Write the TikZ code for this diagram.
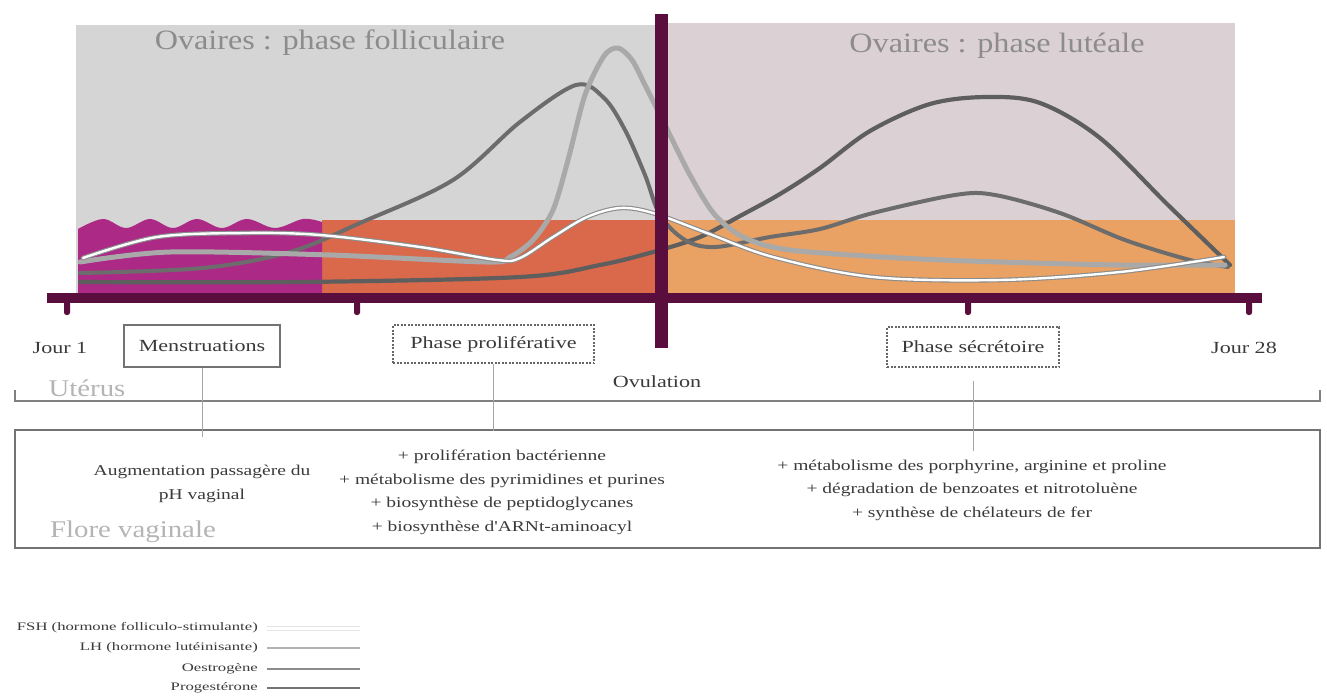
\documentclass[tikz,border=0pt]{standalone}
\usepackage{fontspec}
\setmainfont{Liberation Serif}
\newfontfamily\labfont[FakeStretch=1.3]{Liberation Serif}
\newfontfamily\titfont[FakeStretch=1.15]{Liberation Serif}
\newfontfamily\orgfont[FakeStretch=1.2]{Liberation Serif}
\newfontfamily\legfont[FakeStretch=1.45]{Liberation Serif}

\definecolor{follgray}{HTML}{D5D5D5}
\definecolor{lutgray}{HTML}{DBD1D4}
\definecolor{menmag}{HTML}{AC2A86}
\definecolor{prolor}{HTML}{D9694A}
\definecolor{secor}{HTML}{E9A263}
\definecolor{axispurple}{HTML}{5A0E3E}
\definecolor{titlegray}{HTML}{8C8C8C}
\definecolor{orggray}{HTML}{B4B4B4}
\definecolor{txt}{HTML}{3A3A3A}
\definecolor{estro}{HTML}{6C6C6C}
\definecolor{proge}{HTML}{5E5E5E}
\definecolor{lhgray}{HTML}{A9A9A9}
\definecolor{fshedge}{HTML}{8C8C8C}

\tikzset{
  phasetitle/.style={font=\titfont\fontsize{28}{32}\selectfont, text=titlegray, inner sep=0pt},
  organ/.style={font=\orgfont\fontsize{24}{28}\selectfont, text=orggray, inner sep=0pt},
  daylabel/.style={font=\labfont\fontsize{17}{20}\selectfont, text=txt, inner sep=0pt},
  solidbox/.style={daylabel, draw=black!55, line width=1.2pt},
  dashbox/.style={daylabel, draw=black!60, line width=1.1pt, dash pattern=on 2pt off 1.5pt},
  effects/.style={font=\labfont\fontsize{15}{23.5}\selectfont, text=txt, align=center, inner sep=0pt},
  legtext/.style={font=\legfont\fontsize{11.5}{14}\selectfont, text=txt, inner sep=0pt, anchor=east},
  conn/.style={draw=black!35, line width=0.8pt},
  rule/.style={draw=black!50, line width=1.6pt},
  curve/.style={line cap=round, line join=round},
}

\begin{document}
\begin{tikzpicture}[x=1pt,y=-1pt]
\useasboundingbox (0,0) rectangle (1327,697);

% ---------- chart background ----------
\fill[follgray] (76,25) rectangle (661,298);
\fill[lutgray] (661,23) rectangle (1235,298);
\fill[prolor] (322,220) rectangle (661,298);
\fill[secor] (661,220) rectangle (1235,298);
\fill[menmag] (78,298) -- plot[smooth, tension=0.6] coordinates {(78,229) (103,219) (126,228) (150,219) (173,228) (197,219) (222,228) (247,219) (275,228) (303,219) (322,222)} -- (322,298) -- cycle;

% ---------- phase titles ----------
\node[phasetitle] (follt) at (330,43) {Ovaires : phase folliculaire};
\node[phasetitle] (lutt) at (997,46) {Ovaires : phase lutéale};

% ---------- hormone curves ----------
% progesterone
\draw[curve, proge, line width=4.2pt] plot[smooth, tension=0.55] coordinates {(80,282) (300,282) (520,277) (600,265) (653,252) (700,237) (740,216) (780,194) (820,168) (870,131) (930,104) (987,97) (1040,103) (1100,138) (1168,205) (1230,265)};
% oestrogene
\draw[curve, estro, line width=4pt] plot[smooth, tension=0.55] coordinates {(80,273) (203,268) (290,252) (360,223) (453,180) (520,122) (576,85) (604,98) (625,130) (645,175) (660,215) (685,240) (715,247) (770,237) (820,229) (873,213) (955,195) (995,195) (1060,213) (1125,240) (1190,260) (1228,267)};
% LH
\draw[curve, lhgray, line width=5pt] plot[smooth, tension=0.5] coordinates {(80,262) (170,252) (330,255) (487,262) (510,257) (533,240) (553,210) (568,160) (585,95) (604,56) (618,48) (632,60) (645,85) (665,125) (690,175) (715,215) (745,238) (790,250) (900,258) (1000,262) (1120,265) (1225,265)};
% FSH
\draw[curve, fshedge, line width=4.6pt] plot[smooth, tension=0.55] coordinates {(83,258) (157,237) (245,233) (320,235) (420,247) (497,260) (520,258) (553,237) (587,217) (620,208) (653,213) (707,233) (773,257) (873,277) (1000,280) (1120,272) (1224,257)};
\draw[curve, white, line width=2.4pt] plot[smooth, tension=0.55] coordinates {(83,258) (157,237) (245,233) (320,235) (420,247) (497,260) (520,258) (553,237) (587,217) (620,208) (653,213) (707,233) (773,257) (873,277) (1000,280) (1120,272) (1224,257)};

% ---------- time axis and ovulation bar ----------
\fill[axispurple] (47,293) rectangle (1262,303);
\foreach \t in {67,357,968,1249}
  \fill[axispurple, rounded corners=2.5pt] (\t-3,300) rectangle (\t+3,315);
\fill[axispurple] (655,14) rectangle (668,348);

% ---------- uterus row ----------
\node[daylabel] (j1) at (60,348) {Jour 1};
\node[solidbox, minimum width=156pt, minimum height=42pt] (men) at (202,346) {Menstruations};
\node[dashbox, minimum width=201pt, minimum height=38pt] (pro) at (493.5,344) {Phase proliférative};
\node[dashbox, minimum width=172pt, minimum height=40pt] (sec) at (973,347) {Phase sécrétoire};
\node[daylabel] (j28) at (1244,348) {Jour 28};
\node[daylabel] (ovu) at (657,382) {Ovulation};
\node[organ] (uterus) at (87,388) {Utérus};
\draw[rule] (15,390) -- (15,401) -- (1320,401) -- (1320,390);

% ---------- vaginal flora box ----------
\node[draw=black!55, line width=1.5pt, minimum width=1305pt, minimum height=118pt, inner sep=0pt] (florebox) at (667.5,489) {};
\node[organ] (flore) at (133,532) {Flore vaginale};

\node[effects] (eff1) at (202,484) {Augmentation passagère du\\pH vaginal};
\node[effects] (eff2) at (502,492.5) {+ prolifération bactérienne\\+ métabolisme des pyrimidines et purines\\+ biosynthèse de peptidoglycanes\\+ biosynthèse d'ARNt-aminoacyl};
\node[effects] (eff3) at (972,490) {+ métabolisme des porphyrine, arginine et proline\\+ dégradation de benzoates et nitrotoluène\\+ synthèse de chélateurs de fer};

\draw[conn] (men.south) -- ([yshift=-8pt]men.south |- florebox.north);
\draw[conn] (pro.south) -- ([yshift=-2pt]pro.south |- florebox.north);
\draw[conn] ([yshift=-13pt]sec.south) -- ([yshift=-22pt]sec.south |- florebox.north);

% ---------- legend ----------
\node[legtext] (lfsh) at (258,628) {FSH (hormone folliculo-stimulante)};
\node[legtext] (llh) at (258,648) {LH (hormone lutéinisante)};
\node[legtext] (lest) at (258,669) {Oestrogène};
\node[legtext] (lpro) at (258,688) {Progestérone};
\draw[black!10, line width=5pt] ([xshift=9pt]lfsh.east) -- ++(93,0);
\draw[white, line width=3pt] ([xshift=9pt]lfsh.east) -- ++(93,0);
\draw[black!30, line width=1.2pt] ([xshift=9pt]llh.east) -- ++(93,0);
\draw[black!45, line width=2pt] ([xshift=9pt]lest.east) -- ++(93,0);
\draw[black!55, line width=2.4pt] ([xshift=9pt]lpro.east) -- ++(93,0);
\end{tikzpicture}
\end{document}
